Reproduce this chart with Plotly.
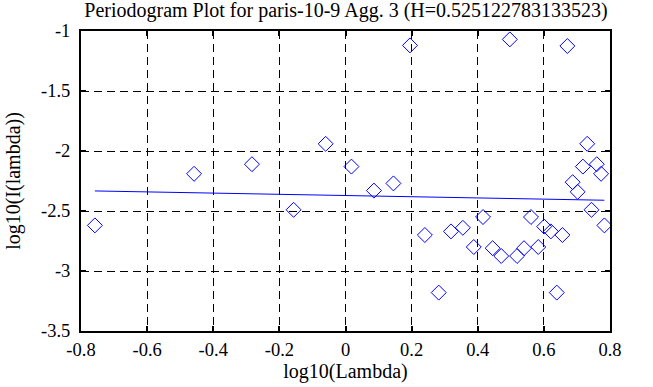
import plotly.graph_objects as go
import numpy as np

title_text = "Periodogram Plot for paris-10-9 Agg. 3 (H=0.525122783133523)"
H = 0.525122783133523

log_lambda = [-0.758, -0.458, -0.283, -0.060, -0.157, 0.018, 0.195, 0.497, 0.671,
              0.731, 0.718, 0.760, 0.773, 0.145, 0.086, 0.687, 0.702, 0.744, 0.783,
              0.240, 0.319, 0.355, 0.416, 0.388, 0.445, 0.471, 0.519, 0.540, 0.561,
              0.583, 0.601, 0.621, 0.656, 0.282, 0.639]
log_I = [-2.62, -2.19, -2.11, -1.94, -2.49, -2.13, -1.12, -1.07, -1.125,
         -1.94, -2.13, -2.11, -2.19, -2.27, -2.33, -2.26, -2.34, -2.49, -2.62,
         -2.70, -2.67, -2.64, -2.55, -2.80, -2.81, -2.875, -2.875, -2.81, -2.55,
         -2.80, -2.63, -2.67, -2.70, -3.18, -3.18]

fit_slope = 1 - 2 * H
fit_intercept = -2.371

x_ticks = [-0.8, -0.6, -0.4, -0.2, 0, 0.2, 0.4, 0.6, 0.8]
x_ticktext = ["-0.8", "-0.6", "-0.4", "-0.2", "0", "0.2", "0.4", "0.6", "0.8"]
y_ticks = [-1, -1.5, -2, -2.5, -3, -3.5]
y_ticktext = ["-1", "-1.5", "-2", "-2.5", "-3", "-3.5"]

line_x = [min(log_lambda), max(log_lambda)]
line_y = [fit_intercept + fit_slope * v for v in line_x]

fig = go.Figure()
fig.add_trace(go.Scatter(
    x=log_lambda, y=log_I, mode="markers",
    marker=dict(symbol="diamond-open", size=11.5, color="#0000ff", line=dict(width=1, color="#0000ff")),
    showlegend=False))
fig.add_trace(go.Scatter(
    x=line_x, y=line_y, mode="lines",
    line=dict(color="#0000ff", width=1), showlegend=False))

family = "Liberation Serif, Times New Roman, serif"
tick_font = dict(family=family, size=18.5, color="black")
label_font = dict(family=family, size=20, color="black")
title_font = dict(family=family, size=20, color="black")
axis_common = dict(
    showline=True, linecolor="black", linewidth=2, mirror="ticks",
    ticks="inside", ticklen=5, tickwidth=2, tickcolor="black",
    showgrid=True, gridcolor="black", gridwidth=1, griddash="8px,5px",
    zeroline=False, tickfont=tick_font, automargin=False,
)
fig.update_layout(
    width=653, height=387,
    margin=dict(l=81, r=43, t=31, b=56),
    paper_bgcolor="white", plot_bgcolor="white",
    font=tick_font,
    hovermode=False,
    title=dict(text=title_text, x=346 / 653, xanchor="center", y=1 - 10 / 387, yanchor="middle",
               font=title_font, automargin=False),
    xaxis=dict(range=[-0.8, 0.8], tickvals=x_ticks, ticktext=x_ticktext, ticklabelstandoff=1,
               title=dict(text="log10(Lambda)", font=label_font, standoff=2), **axis_common),
    yaxis=dict(range=[-3.5, -1], tickvals=y_ticks, ticktext=y_ticktext, ticklabelstandoff=5,
               title=dict(text="log10(I(lambda))", font=label_font, standoff=15), **axis_common),
)
fig.write_html("out.html", config={"displayModeBar": False},
               post_script="document.body.style.margin='0';")
